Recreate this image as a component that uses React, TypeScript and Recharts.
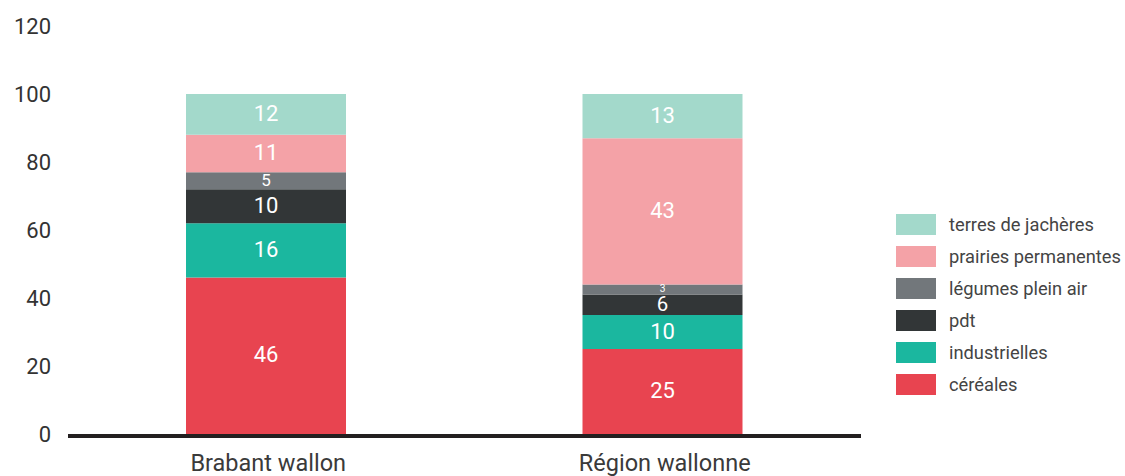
import React from "react";
import { BarChart, Bar, XAxis, YAxis, LabelList, ReferenceLine } from "recharts";

const categories = ["Brabant wallon", "Région wallonne"];
const cereales = [46, 25];
const industrielles = [16, 10];
const pdt = [10, 6];
const legumes = [5, 3];
const prairies = [11, 43];
const jacheres = [12, 13];
const yTicks = [0, 20, 40, 60, 80, 100, 120];

const series = [
  { key: "cereales", name: "céréales", values: cereales, color: "#e84450" },
  { key: "industrielles", name: "industrielles", values: industrielles, color: "#1bb79f" },
  { key: "pdt", name: "pdt", values: pdt, color: "#323637" },
  { key: "legumes", name: "légumes plein air", values: legumes, color: "#72777b" },
  { key: "prairies", name: "prairies permanentes", values: prairies, color: "#f4a2a7" },
  { key: "jacheres", name: "terres de jachères", values: jacheres, color: "#a3d9cb" },
];

const data = categories.map((c, i) => {
  const row: any = { name: c };
  series.forEach((s) => (row[s.key] = s.values[i]));
  return row;
});

const FONT = "Roboto, 'Noto Sans', sans-serif";

const SegLabel = (props: any) => {
  const { x, y, width, height, value } = props;
  const fs = Math.min(22, Math.max(10, height));
  return (
    <text
      x={x + width / 2}
      y={y + height / 2 - 1}
      textAnchor="middle"
      dominantBaseline="central"
      fill="#ffffff"
      fontSize={fs}
      fontFamily={FONT}
    >
      {value}
    </text>
  );
};

const YTick = (props: any) => {
  const { y, payload } = props;
  return (
    <text x={51} y={y} textAnchor="end" dominantBaseline="central" fill="#333333" fontSize={22} fontFamily={FONT}>
      {payload.value}
    </text>
  );
};

const XTick = (props: any) => {
  const { x, payload } = props;
  return (
    <text x={x + 2} y={463} textAnchor="middle" dominantBaseline="central" fill="#3a3a3a" fontSize={23.5} fontFamily={FONT}>
      {payload.value}
    </text>
  );
};

const AxisLineShape = (props: any) => {
  const { x1, x2, y1 } = props;
  return <line x1={x1} x2={x2} y1={y1 + 2} y2={y1 + 2} stroke="#231f20" strokeWidth={4} />;
};

export default function App() {
  const legendItems = [...series].reverse();
  return (
    <div style={{ position: "relative", width: 1125, height: 476, background: "#fff" }}>
      <style>{`body{margin:0}`}</style>
      <BarChart
        width={1125}
        height={476}
        data={data}
        margin={{ top: 26, right: 264, bottom: 12, left: 0 }}
      >
        <XAxis dataKey="name" axisLine={false} tickLine={false} height={30} tick={<XTick />} interval={0} />
        <YAxis
          width={68}
          domain={[0, 120]}
          ticks={yTicks}
          axisLine={false}
          tickLine={false}
          tick={<YTick />}
          interval={0}
        />
        {series.map((s) => (
          <Bar key={s.key} dataKey={s.key} name={s.name} stackId="a" fill={s.color} barSize={160} isAnimationActive={false}>
            <LabelList dataKey={s.key} content={<SegLabel />} />
          </Bar>
        ))}
        <ReferenceLine y={0} shape={<AxisLineShape />} ifOverflow="extendDomain" />
      </BarChart>
      <div style={{ position: "absolute", left: 896, top: 208, fontFamily: FONT }}>
        {legendItems.map((s) => (
          <div key={s.key} style={{ display: "flex", alignItems: "center", height: 32 }}>
            <div style={{ width: 40, height: 21, background: s.color }} />
            <span style={{ marginLeft: 13, fontSize: 18.3, color: "#444444", whiteSpace: "nowrap" }}>{s.name}</span>
          </div>
        ))}
      </div>
    </div>
  );
}
